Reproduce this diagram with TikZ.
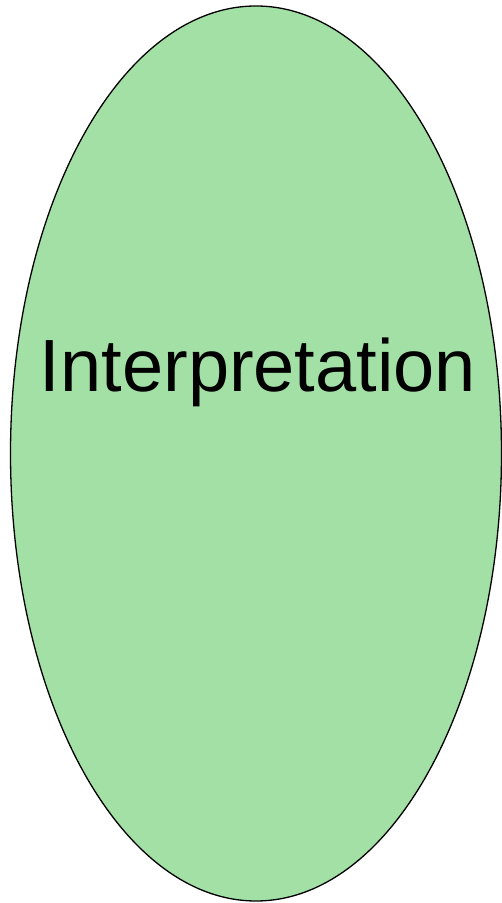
\documentclass[tikz,border=0pt]{standalone}
\usepackage{fontspec}
\setmainfont{Liberation Sans}
\usetikzlibrary{shapes.geometric,positioning}
\definecolor{stagegreen}{RGB}{163,224,165}

\begin{document}
\begin{tikzpicture}[
    x=1pt, y=1pt,
    stage/.style={ellipse, draw=black, line width=1.3pt, fill=stagegreen, inner sep=0pt},
    label/.style={font=\fontsize{74}{80}\selectfont, inner sep=0pt, anchor=base}
]
    \useasboundingbox (0,0) rectangle (502,903);

    \node[stage, minimum width=491pt, minimum height=895pt] (interp) at (256,449.5) {};
    \node[label] (interptext) at (258,511) {Interpretation};
\end{tikzpicture}
\end{document}
